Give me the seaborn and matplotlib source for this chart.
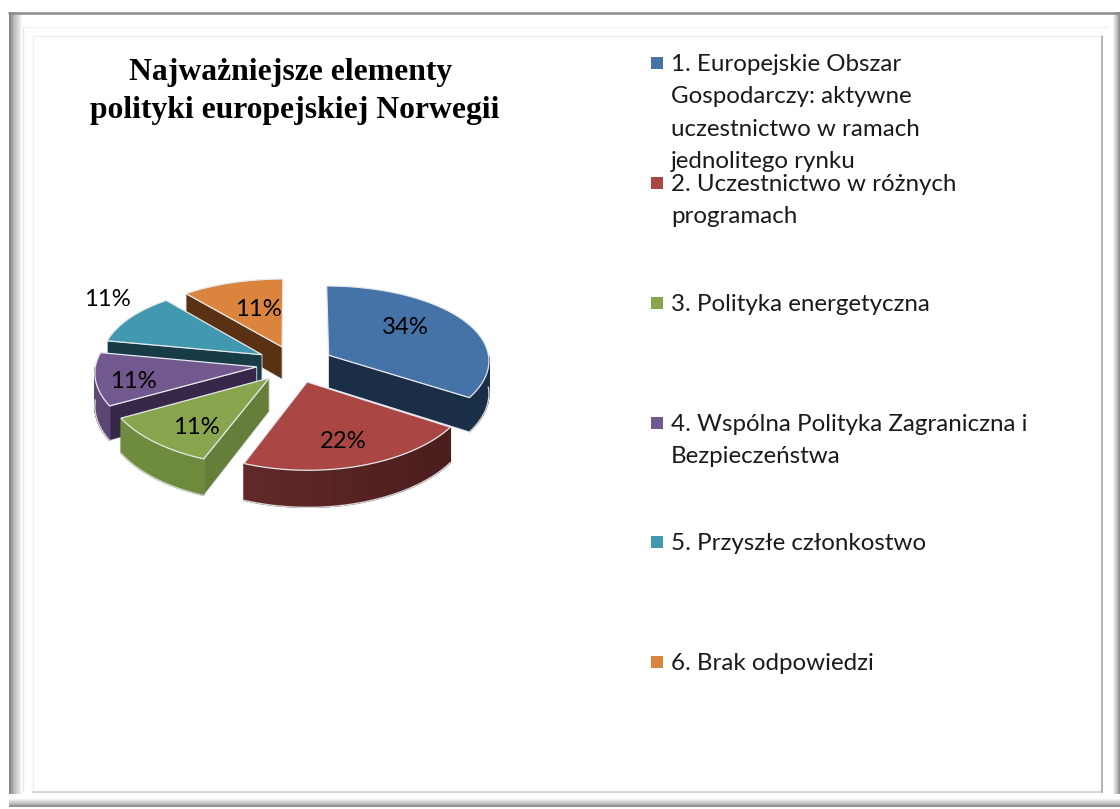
import numpy as np
import pandas as pd
import matplotlib
matplotlib.use("Agg")
import matplotlib.pyplot as plt
import seaborn as sns
from matplotlib.colors import to_rgb
from matplotlib.patches import Polygon, Rectangle

# chart data
categories = [
    "1. Europejskie Obszar\nGospodarczy: aktywne\nuczestnictwo w ramach\njednolitego rynku",
    "2. Uczestnictwo w różnych\nprogramach",
    "3. Polityka energetyczna",
    "4. Wspólna Polityka Zagraniczna i\nBezpieczeństwa",
    "5. Przyszłe członkostwo",
    "6. Brak odpowiedzi",
]
values = [34, 22, 11, 11, 11, 11]
title_lines = ["Najważniejsze elementy", "polityki europejskiej Norwegii"]

# colours
top_colors = ["#4572A7", "#AA4643", "#89A54E", "#71588F", "#4198AF", "#DB843D"]
cut_colors = ["#1A2E47", "#4A1C1C", "#657F3B", "#37284A", "#173C47", "#5A3213"]
rim_left = ["#1F3654", "#6E2F2F", "#6F8C3F", "#5C4775", "#173C47", "#5A3213"]
rim_right = ["#1A2E47", "#481B1B", "#6A8539", "#4A3A60", "#173C47", "#5A3213"]

# layout, in pixels of the 1120x809 picture
W, H = 1120, 809
CX, CY = 295, 364
RADIUS, DEPTH = 161, 33
TILT, PERSP, EXPLODE = 0.478, 0.09, 0.24
label_xy = [(405, 327), (343, 441), (196, 427), (133, 381), (107, 299), (258, 309)]
title_xy = [(291, 72), (295, 110)]
legend_y = [63, 183, 303, 423, 542, 662]
legend_x = 657
text_x = 671
line_step = 32.6


def project(wx, wy, drop=0.0):
    s = 1.0 / (1.0 + PERSP * wy)
    return CX + RADIUS * wx * s ** 0.7, CY - RADIUS * TILT * wy * s + DEPTH * s * drop


def draw_frame(ax):
    ax.add_patch(Rectangle((9, 12), W - 17, H - 18, fc="white", ec="none", zorder=0))
    steps = 16
    shades = [0.5 + 0.5 * (i / (steps - 1)) ** 0.8 for i in range(steps)]
    for i, g in enumerate(shades):
        ax.add_patch(Rectangle((9, 806 - i * 9 / steps), W - 9, 9 / steps + 0.5,
                               fc=(g, g, g), ec="none", zorder=1))
    for i, g in enumerate(shades):
        ax.add_patch(Rectangle((9 + i * 14 / steps, 12), 14 / steps + 0.5, H - 15 - 12,
                               fc=(g, g, g), ec="none", zorder=1))
        ax.add_patch(Rectangle((W - i * 8 / steps - 1, 12), 8 / steps + 0.5, H - 15 - 12,
                               fc=(g, g, g), ec="none", zorder=1))
    ax.plot([9, W], [13, 13], color="#8c8c8c", lw=1.8, zorder=2)
    ax.plot([23, 23], [27, 790], color="#e8e8e8", lw=1, zorder=2)
    ax.plot([23, 1108], [27, 27], color="#f2f2f2", lw=1, zorder=2)
    ax.plot([33, 1102], [36, 36], color="#eeeeee", lw=1, zorder=2)
    ax.plot([33, 33], [36, 792], color="#eeeeee", lw=1, zorder=2)
    ax.plot([33, 1102], [792, 792], color="#d8d8d8", lw=1.5, zorder=2)
    ax.plot([1102, 1102], [36, 792], color="#a8a8a8", lw=1.2, zorder=2)


def draw_wedge(ax, i, start, stop):
    # angles in degrees, sweep runs clockwise from start to stop
    mid = np.radians((start + stop) / 2)
    ox, oy = EXPLODE * np.cos(mid), EXPLODE * np.sin(mid)
    theta = np.radians(np.linspace(start, stop, 90))
    wx = ox + np.cos(theta)
    wy = oy + np.sin(theta)

    # radial cut faces, only those turned to the viewer
    for ang, visible in ((start, np.cos(np.radians(start)) < -0.01),
                         (stop, np.cos(np.radians(stop)) > 0.01)):
        if not visible:
            continue
        ex, ey = ox + np.cos(np.radians(ang)), oy + np.sin(np.radians(ang))
        pts = [project(ox, oy), project(ex, ey), project(ex, ey, 1), project(ox, oy, 1)]
        ax.add_patch(Polygon(pts, fc=cut_colors[i], ec="#dfe3e6", lw=0.6, zorder=10))

    # outer rim, shaded across its width, light line along its lower edge
    a, b = np.array(to_rgb(rim_left[i])), np.array(to_rgb(rim_right[i]))
    low = []
    for k in range(len(theta) - 1):
        if np.sin(theta[k]) > 0 and np.sin(theta[k + 1]) > 0:
            continue
        p0, p1 = project(wx[k], wy[k]), project(wx[k + 1], wy[k + 1])
        q0, q1 = project(wx[k], wy[k], 1), project(wx[k + 1], wy[k + 1], 1)
        t = np.clip((np.cos(theta[k]) + 1) / 2, 0, 1)
        col = a + (b - a) * t
        ax.add_patch(Polygon([p0, p1, q1, q0], fc=col, ec=col, lw=0.9, zorder=10))
        low += [q0, q1]
    if low:
        ax.plot(*zip(*low), color="#d4d4d4", lw=1.0, zorder=10)

    # top face
    sx, sy = project(np.r_[ox, wx], np.r_[oy, wy])
    ax.add_patch(Polygon(np.c_[sx, sy], fc=top_colors[i], ec="#e6e9ec", lw=0.9, zorder=10))


sns.set_theme(style="white")
plt.rcParams["font.family"] = ["Lato", "DejaVu Sans"]

fig = plt.figure(figsize=(W / 100, H / 100), dpi=100)
ax = fig.add_axes([0, 0, 1, 1])
ax.set_xlim(0, W)
ax.set_ylim(H, 0)
ax.axis("off")
draw_frame(ax)

# wedges clockwise from twelve o'clock, painted back to front
shares = np.array(values) / sum(values) * 360
edges = 90 - np.r_[0, np.cumsum(shares)]
mids = (edges[:-1] + edges[1:]) / 2
for i in np.argsort(-np.sin(np.radians(mids))):
    draw_wedge(ax, i, edges[i], edges[i + 1])

for v, (x, y) in zip(values, label_xy):
    ax.text(x, y, f"{v}%", ha="center", va="center", fontsize=17.2, color="black", zorder=20)

for line, (x, y) in zip(title_lines, title_xy):
    ax.text(x, y, line, ha="center", va="center", fontsize=22.8, fontweight="bold",
            family=["Liberation Serif"], color="black")

# legend squares drawn from the categories
legend = pd.DataFrame({"x": legend_x, "y": legend_y, "cat": categories})
sns.scatterplot(data=legend, x="x", y="y", hue="cat", palette=top_colors, marker="s",
                s=72, linewidth=0, legend=False, ax=ax, zorder=20)
ax.set_xlim(0, W)
ax.set_ylim(H, 0)
ax.axis("off")
for cat, y in zip(categories, legend_y):
    for n, line in enumerate(cat.split("\n")):
        ax.text(text_x, y + 1 + n * line_step, line, ha="left", va="center", fontsize=17.4,
                color="#1a1a1a", zorder=20)

fig.savefig("out.png", dpi=100)
